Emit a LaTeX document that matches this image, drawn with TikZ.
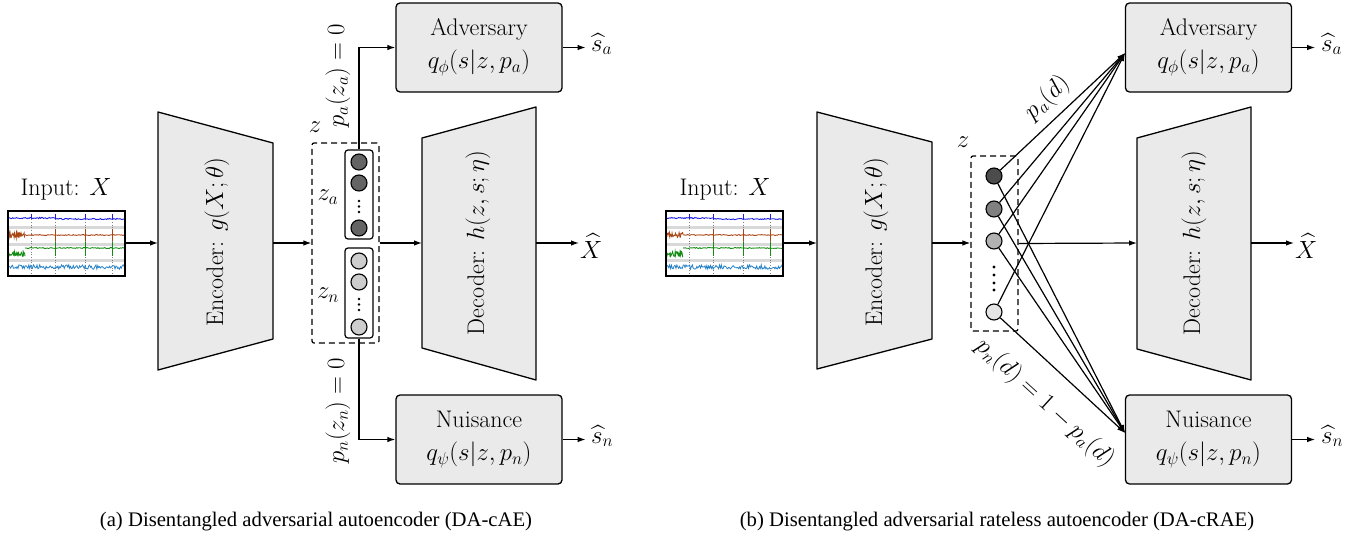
\documentclass[tikz,border=0pt]{standalone}
\usepackage{amsmath}
\usepackage{fontspec}
\newfontfamily\capfont{Liberation Serif}
\usetikzlibrary{arrows.meta,calc}
\definecolor{boxgray}{RGB}{234,234,234}
\definecolor{zadark}{RGB}{100,100,100}
\definecolor{znlight}{RGB}{205,205,205}
\definecolor{sigblue}{RGB}{30,30,230}
\definecolor{sigbrown}{RGB}{170,70,20}
\definecolor{siggreen}{RGB}{20,140,20}
\definecolor{siglblue}{RGB}{40,130,200}
\tikzset{
  conn/.style={line width=1.2pt, -{Latex[length=8pt,width=5.5pt]}},
  trap/.style={draw, fill=boxgray, line width=1.3pt, line join=round},
  netbox/.style={draw, fill=boxgray, line width=1.3pt, rounded corners=4pt,
    minimum width=166pt, minimum height=89pt, align=center, inner sep=0pt,
    font=\fontsize{24}{33}\selectfont},
  zdash/.style={draw, dashed, line width=1.2pt, rounded corners=2pt, inner sep=0pt,
    dash pattern=on 6pt off 4pt},
  zsub/.style={draw, line width=1.2pt, rounded corners=3pt, inner sep=0pt,
    minimum width=28pt},
  neuron/.style={draw, circle, line width=1.1pt, minimum size=16pt, inner sep=0pt},
  dotn/.style={circle, fill=black, minimum size=3.4pt, inner sep=0pt},
  sigimg/.style={draw, line width=1.2pt, minimum width=117pt, minimum height=65pt, inner sep=0pt},
  caption/.style={font=\capfont\fontsize{20.7}{25}\selectfont}
}
\newcommand{\signalplot}[2]{%
  \begin{scope}[shift={(#1,#2)}]
    \clip (0,0) rectangle (117,65);
    \fill[gray!30] (0,15) rectangle (117,18);
    \fill[gray!30] (0,32) rectangle (117,35);
    \fill[gray!30] (0,48) rectangle (117,51);
    \foreach \xx in {23,47,77,104} \draw[gray, dotted, line width=0.7pt] (\xx,0) -- (\xx,65);
    \draw[sigblue, line width=0.9pt] plot[domain=0:47, samples=50] (\x,{7+0.6*rand});
    \draw[sigblue, line width=0.9pt] plot[domain=47:117, samples=70] (\x,{8+0.6*rand});
    \foreach \xx in {23,47,77,104} \draw[sigblue, line width=0.9pt] (\xx,8) -- (\xx,3);
    \draw[sigbrown, line width=0.9pt] plot[domain=0:17, samples=40] (\x,{24+2.5*rand});
    \draw[sigbrown, line width=0.9pt] plot[domain=17:117, samples=90] (\x,{24+0.5*rand});
    \foreach \xx in {47,77,104} \draw[sigbrown, line width=0.9pt] (\xx,18) -- (\xx,30);
    \draw[siggreen, line width=0.9pt] plot[domain=0:17, samples=40] (\x,{43+2.5*rand});
    \draw[siggreen, line width=0.9pt] plot[domain=17:117, samples=90] (\x,{37+0.5*rand});
    \foreach \xx in {47,77,104} \draw[siggreen, line width=0.9pt] (\xx,31) -- (\xx,45);
    \draw[siglblue, line width=0.8pt] plot[domain=0:117, samples=130] (\x,{56+2.2*rand});
  \end{scope}}
\begin{document}
\begin{tikzpicture}[x=1pt,y=-1pt, font=\fontsize{24}{28}\selectfont]
\useasboundingbox (0,0) rectangle (1369,536);
\pgfmathsetseed{7}

%%%%%%%%%%%%%%%% Panel (a)
\node (inA) at (66,189) {Input: $X$};
\signalplot{8}{211}
\node[sigimg] (imgA) at (66.5,243.5) {};
% encoder
\draw[trap] (158,112) -- (273,143) -- (273,339) -- (158,370) -- cycle;
\coordinate (encAin) at (158,243);
\coordinate (encAout) at (273,243);
\node[rotate=90] (encAtxt) at (217,242) {Encoder: $g(X;\theta)$};
% latent
\node[zdash, minimum width=67pt, minimum height=200pt] (zA) at (345.5,243) {};
\node (zAlab) at (315,127) {$z$};
\node[zsub, minimum height=89pt] (za) at (359,194.5) {};
\node[zsub, minimum height=90pt] (zn) at (359,293) {};
\node[neuron, fill=zadark] (a1) at (359,162) {};
\node[neuron, fill=zadark] (a2) at (359,183) {};
\node[dotn, minimum size=2.6pt] (ad1) at (359,201) {};
\node[dotn, minimum size=2.6pt] (ad2) at (359,206.5) {};
\node[dotn, minimum size=2.6pt] (ad3) at (359,212) {};
\node[neuron, fill=zadark] (a3) at (359,228) {};
\node[neuron, fill=znlight] (n1) at (359,261) {};
\node[neuron, fill=znlight] (n2) at (359,282) {};
\node[dotn, minimum size=2.6pt] (nd1) at (359,299) {};
\node[dotn, minimum size=2.6pt] (nd2) at (359,304.5) {};
\node[dotn, minimum size=2.6pt] (nd3) at (359,310) {};
\node[neuron, fill=znlight] (n3) at (359,327) {};
\node (zalab) at (328,197) {$z_a$};
\node (znlab) at (328,295) {$z_n$};
% decoder
\draw[trap] (422,138) -- (536,107) -- (536,380) -- (422,348) -- cycle;
\coordinate (decAin) at (422,243);
\coordinate (decAout) at (536,243);
\node[rotate=90] (decAtxt) at (478,243) {Decoder: $h(z,s;\eta)$};
\node[anchor=west, inner sep=1pt] (xhatA) at (579,246) {$\widehat{X}$};
% adversary / nuisance
\node[netbox] (advA) at (479,47.5) {Adversary\\$q_\phi(s|z,p_a)$};
\node[netbox] (nuiA) at (479,439.5) {Nuisance\\$q_\psi(s|z,p_n)$};
\node[anchor=west, inner sep=1pt] (saA) at (590,44) {$\widehat{s}_a$};
\node[anchor=west, inner sep=1pt] (snA) at (590,436) {$\widehat{s}_n$};
\node[rotate=90] (paA) at (338,76) {$p_a(z_a)=0$};
\node[rotate=90] (pnA) at (338,411) {$p_n(z_n)=0$};
% connectors
\draw[conn] (imgA.east |- encAin) -- (encAin);
\draw[conn] (encAout) -- (zA.west |- encAout);
\draw[conn] (zA.east) -- (decAin);
\draw[conn] (decAout) -- (xhatA.west |- decAout);
\draw[conn] (za.north) |- (advA.west);
\draw[conn] (zn.south) |- (nuiA.west);
\draw[conn] (advA.east) -- ++(23,0) coordinate (saAend);
\draw[conn] (nuiA.east) -- ++(23,0) coordinate (snAend);

%%%%%%%%%%%%%%%% Panel (b)
\node (inB) at (725,189) {Input: $X$};
\signalplot{666}{211}
\node[sigimg] (imgB) at (724.5,243.5) {};
\draw[trap] (817,112) -- (932,142) -- (932,339) -- (817,369) -- cycle;
\coordinate (encBin) at (817,243);
\coordinate (encBout) at (932,243);
\node[rotate=90] (encBtxt) at (876,242) {Encoder: $g(X;\theta)$};
\node[zdash, minimum width=47pt, minimum height=175pt] (zB) at (994.5,243.5) {};
\node (zBlab) at (963,142) {$z$};
\node[neuron, fill=black!70] (c1) at (994,176) {};
\node[neuron, fill=black!50] (c2) at (994,209) {};
\node[neuron, fill=black!30] (c3) at (994,241) {};
\node[dotn] (cd1) at (994,267) {};
\node[dotn] (cd2) at (994,275) {};
\node[dotn] (cd3) at (994,283) {};
\node[dotn] (cd4) at (994,290) {};
\node[neuron, fill=black!10] (c4) at (994,312) {};
\draw[trap] (1137,138) -- (1251,107) -- (1251,380) -- (1137,349) -- cycle;
\coordinate (decBin) at (1137,243);
\coordinate (decBout) at (1251,243);
\node[rotate=90] (decBtxt) at (1194,243) {Decoder: $h(z,s;\eta)$};
\node[anchor=west, inner sep=1pt] (xhatB) at (1294,246) {$\widehat{X}$};
\node[netbox] (advB) at (1208.5,47.5) {Adversary\\$q_\phi(s|z,p_a)$};
\node[netbox] (nuiB) at (1208.5,439.5) {Nuisance\\$q_\psi(s|z,p_n)$};
\node[anchor=west, inner sep=1pt] (saB) at (1320,44) {$\widehat{s}_a$};
\node[anchor=west, inner sep=1pt] (snB) at (1320,436) {$\widehat{s}_n$};
\coordinate (advBin) at (1125,53);
\coordinate (nuiBin) at (1125,433);
\node[rotate=43] (paB) at (1047,98) {$p_a(d)$};
\node[rotate=-42.5] (pnB) at (1045,403) {$p_n(d)=1-p_a(d)$};
\draw[conn] (imgB.east |- encBin) -- (encBin);
\draw[conn] (encBout) -- (zB.west |- encBout);
\draw[conn] (zB.east) -- (decBin);
\draw[conn] (decBout) -- (xhatB.west |- decBout);
\foreach \c in {c1,c2,c3,c4} {
  \draw[conn] (\c) -- (advBin);
  \draw[conn] (\c) -- (nuiBin);
}
\draw[conn] (advB.east) -- ++(23,0) coordinate (saBend);
\draw[conn] (nuiB.east) -- ++(23,0) coordinate (snBend);

%%%%%%%%%%%%%%%% captions
\node[caption] (capA) at (316,522) {(a) Disentangled adversarial autoencoder (DA-cAE)};
\node[caption] (capB) at (997,522) {(b) Disentangled adversarial rateless autoencoder (DA-cRAE)};
\end{tikzpicture}
\end{document}
